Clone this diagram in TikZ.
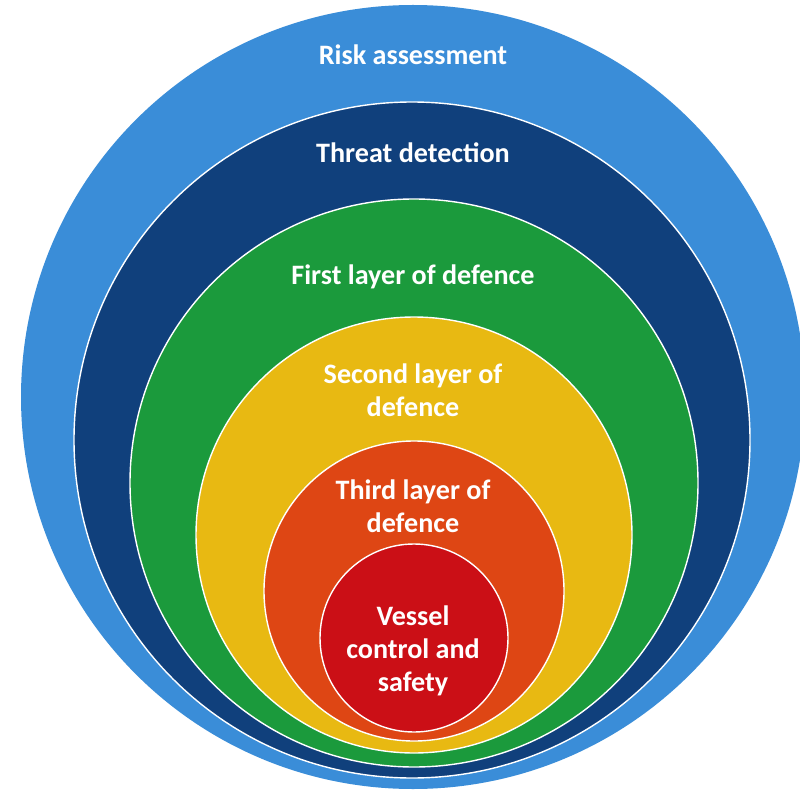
\documentclass[tikz,border=0pt]{standalone}
\usepackage{fontspec}
\setmainfont{Carlito}
\definecolor{riskblue}{HTML}{3A8DD8}
\definecolor{threatblue}{HTML}{10407C}
\definecolor{firstgreen}{HTML}{1B9A3C}
\definecolor{secondyellow}{HTML}{E8B912}
\definecolor{thirdorange}{HTML}{DE4614}
\definecolor{vesselred}{HTML}{CB0F16}
\tikzset{
  layer/.style={draw=white, line width=1pt},
  layertext/.style={text=white, align=center, font=\bfseries\fontsize{20}{23.5}\selectfont}
}
\begin{document}
\begin{tikzpicture}[x=0.025cm, y=0.025cm]
		
		\useasboundingbox (0,0) rectangle (800,-793);
		\clip (0,0) rectangle (800,-793);
		
		\fill[riskblue] (413,-397) circle[radius=392];
		\filldraw[layer, fill=threatblue] (412,-440) circle[radius=338];
		\filldraw[layer, fill=firstgreen] (414,-483) circle[radius=284];
		\filldraw[layer, fill=secondyellow] (414,-535) circle[radius=218];
		\filldraw[layer, fill=thirdorange] (414,-591) circle[radius=150];
		\filldraw[layer, fill=vesselred] (414,-638) circle[radius=94];
		
		\node[layertext] (risk) at (413,-55) {Risk assessment};
		\node[layertext] (threat) at (413,-153) {Threat detection};
		\node[layertext] (first) at (413,-277) {First layer of defence};
		\node[layertext] (second) at (413,-390) {Second layer of\\defence};
		\node[layertext] (third) at (413,-506) {Third layer of\\defence};
		\node[layertext] (vessel) at (413,-651) {Vessel\\control and\\safety};
		
		
	\end{tikzpicture}
\end{document}
